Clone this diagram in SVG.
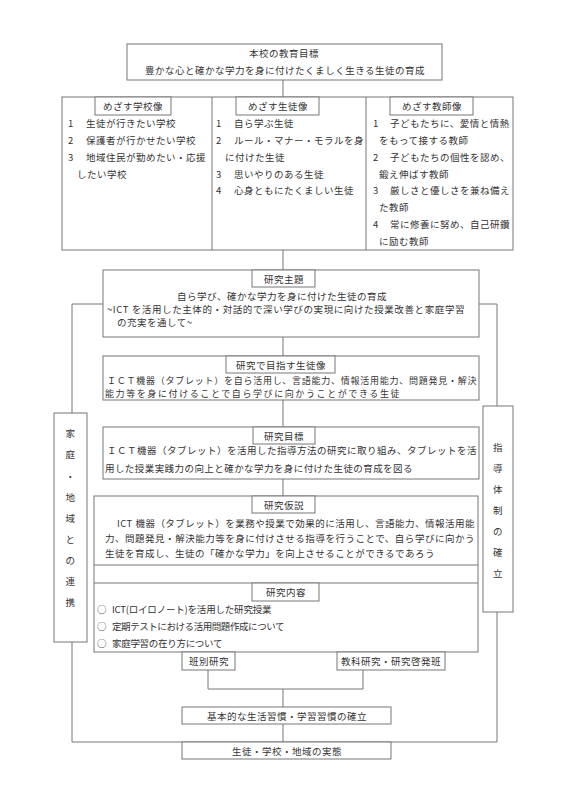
<svg xmlns="http://www.w3.org/2000/svg" width="566" height="800" viewBox="0 0 566 800">
<style>
rect{fill:#fff;stroke:#777;stroke-width:1}
line,path{stroke:#777;stroke-width:1;fill:none}
text{font-family:"Noto Sans CJK JP","Noto Sans",sans-serif;font-size:9.5px;fill:#333;dominant-baseline:central;letter-spacing:0.5px}
.c{text-anchor:middle}
.s{font-size:9px}
</style>
<rect width="566" height="800" style="fill:#fff;stroke:none"/>
<g id="connectors">
<line x1="283" y1="80" x2="283" y2="97"/>
<line x1="283" y1="250" x2="283" y2="270"/>
<line x1="283" y1="337" x2="283" y2="356"/>
<line x1="283" y1="400" x2="283" y2="427"/>
<line x1="283" y1="479" x2="283" y2="496"/>
<line x1="283" y1="565" x2="283" y2="583"/>
<path d="M208 670V689H363V670"/>
<line x1="283" y1="689" x2="283" y2="707"/>
<line x1="283" y1="724" x2="283" y2="742"/>
<path d="M103 304H72V413"/>
<path d="M479 304H497V406"/>
<path d="M72 642V742H497V612"/>
</g>
<g id="goal">
<rect x="127" y="44" width="315" height="36"/>
<text x="284" y="53" class="c">本校の教育目標</text>
<text x="285" y="70" class="c" textLength="280">豊かな心と確かな学力を身に付けたくましく生きる生徒の育成</text>
</g>
<g id="images">
<rect x="62" y="97" width="451" height="153"/>
<line x1="212" y1="97" x2="212" y2="250"/>
<line x1="366" y1="97" x2="366" y2="250"/>
</g>
<g id="school">
<rect x="95" y="97" width="76" height="18"/>
<text x="133" y="106" class="c">めざす学校像</text>
<text x="68" y="123">1</text><text x="86" y="123">生徒が行きたい学校</text>
<text x="68" y="140">2</text><text x="86" y="140">保護者が行かせたい学校</text>
<text x="68" y="157">3</text><text x="86" y="157">地域住民が勤めたい・応援</text>
<text x="77" y="174">したい学校</text>
</g>
<g id="student">
<rect x="236" y="97" width="83" height="18"/>
<text x="278" y="106" class="c">めざす生徒像</text>
<text x="216" y="123">1</text><text x="234" y="123">自ら学ぶ生徒</text>
<text x="216" y="140">2</text><text x="234" y="140">ルール・マナー・モラルを身</text>
<text x="225" y="157">に付けた生徒</text>
<text x="216" y="174">3</text><text x="234" y="174">思いやりのある生徒</text>
<text x="216" y="190">4</text><text x="234" y="190">心身ともにたくましい生徒</text>
</g>
<g id="teacher">
<rect x="390" y="97" width="83" height="18"/>
<text x="432" y="106" class="c">めざす教師像</text>
<text x="373" y="123">1</text><text x="390" y="123">子どもたちに、愛情と情熱</text>
<text x="379" y="140">をもって接する教師</text>
<text x="373" y="157">2</text><text x="390" y="157">子どもたちの個性を認め、</text>
<text x="379" y="174">鍛え伸ばす教師</text>
<text x="373" y="190">3</text><text x="390" y="190">厳しさと優しさを兼ね備え</text>
<text x="379" y="207">た教師</text>
<text x="373" y="224">4</text><text x="390" y="224">常に修養に努め、自己研鑽</text>
<text x="379" y="241">に励む教師</text>
</g>
<g id="theme">
<rect x="103" y="270" width="376" height="67"/>
<rect x="252" y="270" width="63" height="17"/>
<text x="284" y="279" class="c">研究主題</text>
<text x="282" y="296" class="c">自ら学び、確かな学力を身に付けた生徒の育成</text>
<text x="107" y="309" textLength="358">~ICT を活用した主体的・対話的で深い学びの実現に向けた授業改善と家庭学習</text>
<text x="117" y="322">の充実を通して~</text>
</g>
<g id="aim-student">
<rect x="103" y="356" width="376" height="44"/>
<rect x="226" y="356" width="109" height="17"/>
<text x="281" y="365" class="c">研究で目指す生徒像</text>
<text x="107" y="380" class="s" textLength="370">ＩＣＴ機器（タブレット）を自ら活用し、言語能力、情報活用能力、問題発見・解決</text>
<text x="105" y="393.5" class="s" textLength="295">能力等を身に付けることで自ら学びに向かうことができる生徒</text>
</g>
<g id="objective">
<rect x="103" y="427" width="376" height="52"/>
<rect x="253" y="427" width="62" height="17"/>
<text x="284" y="436" class="c">研究目標</text>
<text x="107" y="450" textLength="370">ＩＣＴ機器（タブレット）を活用した指導方法の研究に取り組み、タブレットを活</text>
<text x="105" y="468" textLength="308">用した授業実践力の向上と確かな学力を身に付けた生徒の育成を図る</text>
</g>
<g id="hypothesis">
<rect x="94" y="496" width="384" height="156"/>
<line x1="94" y1="565" x2="478" y2="565"/>
<line x1="94" y1="583" x2="478" y2="583"/>
<rect x="252" y="496" width="63" height="17"/>
<text x="284" y="505" class="c">研究仮説</text>
<text x="117" y="523" textLength="358">ICT 機器（タブレット）を業務や授業で効果的に活用し、言語能力、情報活用能</text>
<text x="105" y="538" textLength="370">力、問題発見・解決能力等を身に付けさせる指導を行うことで、自ら学びに向かう</text>
<text x="105" y="553" textLength="330">生徒を育成し、生徒の「確かな学力」を向上させることができるであろう</text>
</g>
<g id="content">
<rect x="252" y="583" width="67" height="18"/>
<text x="286" y="592" class="c">研究内容</text>
<text x="97" y="609">○</text><text x="112" y="609" textLength="160">ICT(ロイロノート)を活用した研究授業</text>
<text x="97" y="626">○</text><text x="112" y="626" textLength="173">定期テストにおける活用問題作成について</text>
<text x="97" y="643">○</text><text x="112" y="643" textLength="111">家庭学習の在り方について</text>
</g>
<g id="group-study">
<rect x="182" y="652" width="53" height="18"/>
<text x="209" y="661" class="c">班別研究</text>
</g>
<g id="subject-study">
<rect x="337" y="652" width="108" height="18"/>
<text x="391" y="661" class="c">教科研究・研究啓発班</text>
</g>
<g id="habits">
<rect x="182" y="707" width="209" height="17"/>
<text x="287" y="716" class="c">基本的な生活習慣・学習習慣の確立</text>
</g>
<g id="reality">
<rect x="182" y="742" width="209" height="17"/>
<text x="287" y="751" class="c">生徒・学校・地域の実態</text>
</g>
<g id="community">
<rect x="54" y="413" width="33" height="229"/>
<text x="70.5" y="433" class="c">家</text>
<text x="70.5" y="454" class="c">庭</text>
<text x="70.5" y="476" class="c">・</text>
<text x="70.5" y="497" class="c">地</text>
<text x="70.5" y="518" class="c">域</text>
<text x="70.5" y="539" class="c">と</text>
<text x="70.5" y="560" class="c">の</text>
<text x="70.5" y="581" class="c">連</text>
<text x="70.5" y="602" class="c">携</text>
</g>
<g id="system">
<rect x="483" y="406" width="30" height="206"/>
<text x="498" y="447" class="c">指</text>
<text x="498" y="468" class="c">導</text>
<text x="498" y="489" class="c">体</text>
<text x="498" y="510" class="c">制</text>
<text x="498" y="531" class="c">の</text>
<text x="498" y="552" class="c">確</text>
<text x="498" y="573" class="c">立</text>
</g>
</svg>
